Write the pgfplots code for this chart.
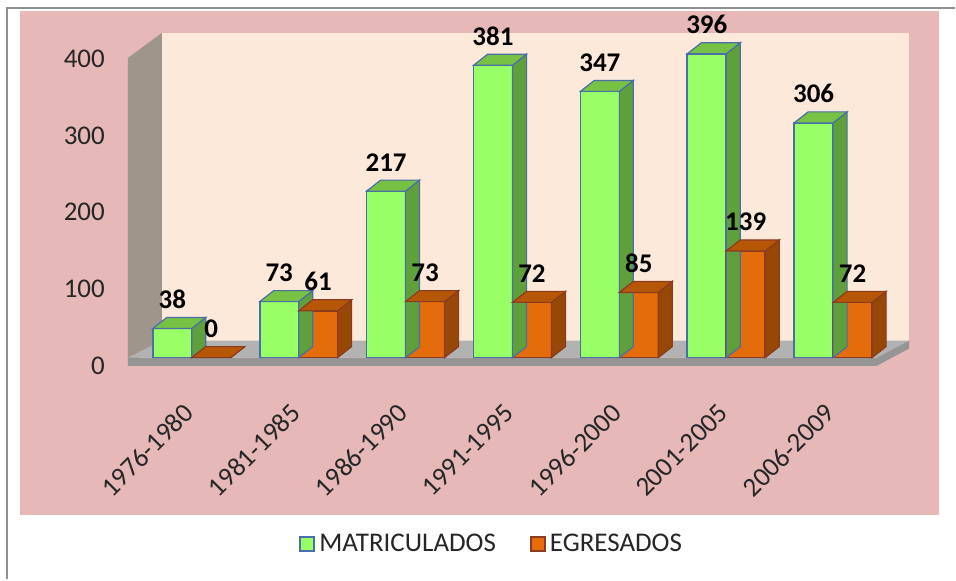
\documentclass[border=0pt]{standalone}
\usepackage{pgfplots}
\pgfplotsset{compat=1.18}
\usepackage{pgfplotstable}
\usepackage{fontspec}
\setmainfont{Carlito}

\definecolor{pinkbg}{HTML}{E6B8B7}
\definecolor{peach}{HTML}{FDE9D9}
\definecolor{wallgray}{HTML}{A0958A}
\definecolor{floorgray}{HTML}{B2B2B2}
\definecolor{floordark}{HTML}{959595}
\definecolor{framegray}{HTML}{8F8F8F}
\definecolor{gfront}{HTML}{99FF66}
\definecolor{gtop}{HTML}{77C144}
\definecolor{gside}{HTML}{5FA03C}
\definecolor{gborder}{HTML}{4A6FA8}
\definecolor{ofront}{HTML}{E46C0A}
\definecolor{otop}{HTML}{B65708}
\definecolor{oside}{HTML}{974807}
\definecolor{oborder}{HTML}{8C3A20}

\pgfdeclareplotmark{nothing}{}

\pgfplotstableread{
x mat egr
0 38 0
1 73 61
2 217 73
3 381 72
4 347 85
5 396 139
6 306 72
}\datatable

\begin{document}
\begin{tikzpicture}
\begin{scope}[x=0.5pt,y=-0.5pt]
  \fill[white] (0,0) rectangle (956,580);
  \draw[framegray, line width=1pt] (7,580) -- (7,8) -- (956,8);
  \fill[pinkbg] (20,11) rectangle (940,516);
  \fill[wallgray] (128,58) -- (162,33) -- (162,341) -- (128,366) -- cycle;
  \fill[peach] (162,33) rectangle (910,341);
  \fill[floorgray] (128,358) -- (878,358) -- (910,341) -- (162,341) -- cycle;
  \fill[floordark] (128,358) rectangle (878,366);
  \fill[floordark] (878,358) -- (910,341) -- (910,349) -- (878,366) -- cycle;
\end{scope}
\begin{axis}[
  at={(64pt,-183pt)}, anchor=south west,
  x=53.5pt, y=0.384pt,
  xmin=-0.598, xmax=6.710, ymin=-10.42, ymax=423.2,
  axis line style={draw=none},
  major tick length=0pt,
  clip=false,
  xtick={0,...,6},
  xticklabels={1976-1980,1981-1985,1986-1990,1991-1995,1996-2000,2001-2005,2006-2009},
  ytick={0,100,200,300,400},
  /pgf/number format/assume math mode=true,
  ticklabel style={font=\fontsize{13.5}{16}\selectfont, text=black!85},
  yticklabel style={xshift=-8pt, yshift=-4pt},
  xticklabel style={yshift=-19pt, xshift=1pt, rotate=45, anchor=east},
  legend style={at={(0.467,-0.5375)}, anchor=center, draw=none, fill=none,
    font=\fontsize{13.5}{16}\selectfont, text=black!85,
    legend columns=2, /tikz/every even column/.append style={column sep=15pt}},
]
% green depth faces
\addplot[forget plot, only marks, mark=nothing, scatter,
  visualization depends on={rawy \as \rawv},
  scatter/@pre marker code/.append code={%
    \pgfmathsetlengthmacro\hh{\rawv*0.384pt}%
    \filldraw[fill=gside, draw=gborder, line width=0.6pt] (0pt,0pt) -- (7pt,5.5pt) -- (7pt,5.5pt-\hh) -- (0pt,-\hh) -- cycle;
    \filldraw[fill=gtop, draw=gborder, line width=0.6pt] (-19.5pt,0pt) -- (0pt,0pt) -- (7pt,5.5pt) -- (-12.5pt,5.5pt) -- cycle;
  }] table[x=x, y=mat] {\datatable};
\addplot[ybar, bar width=0.3645, bar shift=-0.18225, fill=gfront, draw=gborder, line width=0.8pt,
  nodes near coords,
  every node near coord/.append style={font=\bfseries\fontsize{13.5}{16}\selectfont, anchor=base, yshift=10pt, xshift=-9.75pt, text=black},
  legend image code/.code={\draw[fill=gfront, draw=gborder, line width=1pt] (0pt,-3.5pt) rectangle (7pt,3.5pt);}]
  table[x=x, y=mat] {\datatable};
\addlegendentry{MATRICULADOS}
% orange depth faces
\addplot[forget plot, only marks, mark=nothing, scatter,
  visualization depends on={rawy \as \rawv},
  scatter/@pre marker code/.append code={%
    \pgfmathsetlengthmacro\hh{\rawv*0.384pt}%
    \filldraw[fill=oside, draw=oborder, line width=0.6pt] (19.5pt,0pt) -- (26.5pt,5.5pt) -- (26.5pt,5.5pt-\hh) -- (19.5pt,-\hh) -- cycle;
    \filldraw[fill=otop, draw=oborder, line width=0.6pt] (0pt,0pt) -- (19.5pt,0pt) -- (26.5pt,5.5pt) -- (7pt,5.5pt) -- cycle;
  }] table[x=x, y=egr] {\datatable};
\addplot[ybar, bar width=0.3645, bar shift=0.18225, fill=ofront, draw=oborder, line width=0.8pt,
  nodes near coords,
  every node near coord/.append style={font=\bfseries\fontsize{13.5}{16}\selectfont, anchor=base, yshift=10pt, xshift=9.75pt, text=black},
  legend image code/.code={\draw[fill=ofront, draw=oborder, line width=1pt] (0pt,-3.5pt) rectangle (7pt,3.5pt);}]
  table[x=x, y=egr] {\datatable};
\addlegendentry{EGRESADOS}
\end{axis}
\end{tikzpicture}
\end{document}
